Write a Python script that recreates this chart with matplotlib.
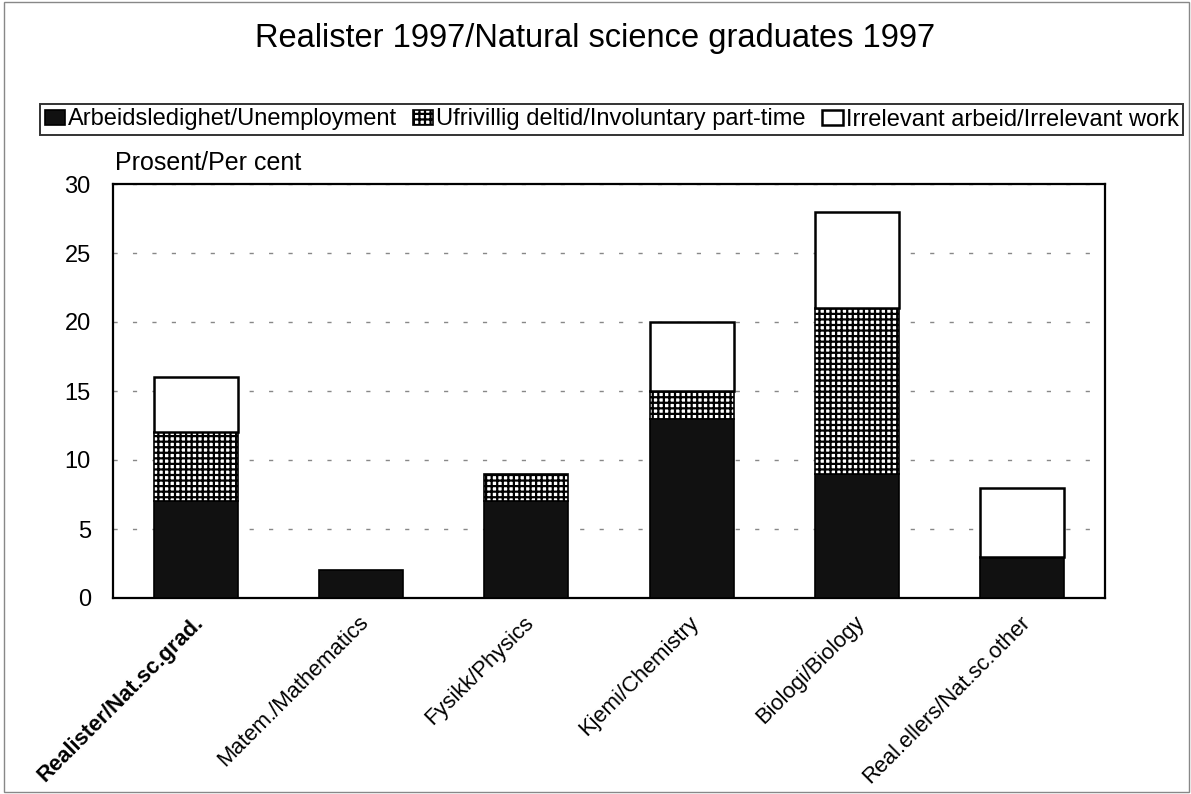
import matplotlib
matplotlib.use("Agg")
import matplotlib.pyplot as plt
from matplotlib.patches import Rectangle
import matplotlib.transforms as mtransforms
import numpy as np

plt.rcParams['font.family'] = ['Liberation Sans', 'DejaVu Sans']
plt.rcParams['hatch.linewidth'] = 1.6
plt.rcParams['hatch.color'] = 'black'

title = "Realister 1997/Natural science graduates 1997"
categories = ["Realister/Nat.sc.grad.", "Matem./Mathematics", "Fysikk/Physics",
              "Kjemi/Chemistry", "Biologi/Biology", "Real.ellers/Nat.sc.other"]
series_names = ["Arbeidsledighet/Unemployment",
                "Ufrivillig deltid/Involuntary part-time",
                "Irrelevant arbeid/Irrelevant work"]
unemployment = [7, 2, 7, 13, 9, 3]
parttime = [5, 0, 2, 2, 12, 0]
irrelevant = [4, 0, 0, 5, 7, 5]
yticks = [0, 5, 10, 15, 20, 25, 30]
ylabel = "Prosent/Per cent"

W, H = 1191, 794
fig = plt.figure(figsize=(W / 100, H / 100), dpi=100)
ax = fig.add_axes([113 / W, 1 - 598 / H, (1105 - 113) / W, (598 - 184) / H])

x = np.arange(len(categories))
w = 0.51
u = np.array(unemployment, float)
p = np.array(parttime, float)
r = np.array(irrelevant, float)

b1 = ax.bar(x, u, w, color='#111111', edgecolor='black', linewidth=1.2,
            label=series_names[0], zorder=3)
b2 = ax.bar(x, p, w, bottom=u, color='white', edgecolor='black', hatch='+++',
            linewidth=1.2, label=series_names[1], zorder=3)
b3 = ax.bar(x, r, w, bottom=u + p, color='white', edgecolor='black',
            linewidth=1.8, label=series_names[2], zorder=3)
for bars, vals in ((b2, p), (b3, r)):
    for bar, v in zip(bars, vals):
        if v == 0:
            bar.set_visible(False)

ax.set_xlim(-0.5, len(categories) - 0.5)
ax.set_ylim(0, 30)
ax.set_yticks(yticks)
ax.set_yticklabels([str(t) for t in yticks], fontsize=17)
ax.tick_params(axis='y', length=0, pad=16)
ax.tick_params(axis='x', length=0, pad=10)
ax.set_xticks(x)
labels = ax.set_xticklabels(categories, rotation=45, ha='right', va='top',
                            rotation_mode='anchor', fontsize=15.8)
labels[0].set_fontweight('bold')
offset = mtransforms.ScaledTranslation(-3 / 100, 0, fig.dpi_scale_trans)
for lab in labels:
    lab.set_transform(lab.get_transform() + offset)

ax.yaxis.grid(True, color='#888888', linestyle=(0, (3, 11)), linewidth=1.0)
ax.set_axisbelow(True)
for s in ax.spines.values():
    s.set_linewidth(1.6)
    s.set_color('black')

fig.text(0.5, 1 - 47 / H, title, ha='center', va='baseline', fontsize=23.5)
fig.text(115 / W, 1 - 170 / H, ylabel, ha='left', va='baseline', fontsize=18)

leg = fig.legend(handles=[b1, b2, b3], labels=series_names, loc='center',
                 bbox_to_anchor=(611.5 / W, 1 - 119.5 / H), ncol=3,
                 fontsize=17, frameon=True, fancybox=False, edgecolor='black',
                 handlelength=0.85, handleheight=0.6, handletextpad=0.13,
                 columnspacing=0.7, borderpad=0.2, borderaxespad=0)
leg.get_frame().set_linewidth(1.4)

fig.patches.append(Rectangle((0.003, 0.002), 0.995, 0.995, transform=fig.transFigure,
                             fill=False, edgecolor='#888888', linewidth=1.0))

fig.savefig("out.png", dpi=100)
